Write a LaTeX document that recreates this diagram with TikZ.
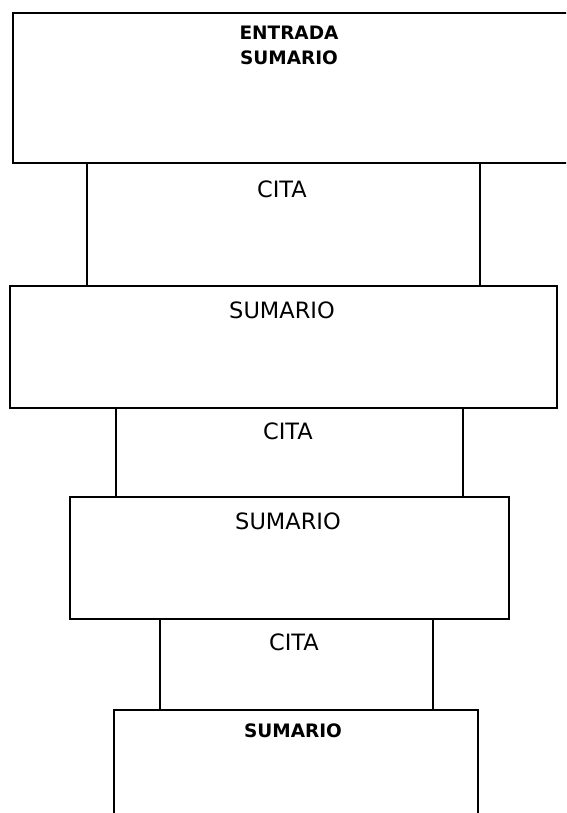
\documentclass[tikz,border=0pt]{standalone}
\usepackage{fontspec}
\setmainfont{DejaVu Sans}
\begin{document}
\begin{tikzpicture}[x=1pt,y=-1pt,
  blk/.style={draw=black,line width=1.6pt,rectangle,inner sep=0pt,anchor=north west},
  lbl/.style={font=\fontsize{22.5}{26}\selectfont,inner sep=0pt,text=black},
  blbl/.style={font=\fontsize{18.5}{25}\selectfont\bfseries,inner sep=0pt,text=black,align=center}]
\useasboundingbox (0,0) rectangle (566,813);
\clip (0,0) rectangle (566,813);
% blocks (drawn top to bottom)
\node[blk,minimum width=570,minimum height=150] (b1) at (12,12) {};
\node[blk,minimum width=393,minimum height=123] (c1) at (86,162) {};
\node[blk,minimum width=547,minimum height=122] (b2) at (9,285) {};
\node[blk,minimum width=347,minimum height=89] (c2) at (115,407) {};
\node[blk,minimum width=439,minimum height=122] (b3) at (69,496) {};
\node[blk,minimum width=273,minimum height=91] (c3) at (159,618) {};
\node[blk,minimum width=364,minimum height=130] (b4) at (113,709) {};
% labels
\node[blbl] (t1) at (289,45) {ENTRADA\\SUMARIO};
\node[lbl] (t2) at (282,189) {CITA};
\node[lbl] (t3) at (282,310) {SUMARIO};
\node[lbl] (t4) at (288,431) {CITA};
\node[lbl] (t5) at (288,521) {SUMARIO};
\node[lbl] (t6) at (294,642) {CITA};
\node[blbl] (t7) at (293,731) {SUMARIO};
\end{tikzpicture}
\end{document}
